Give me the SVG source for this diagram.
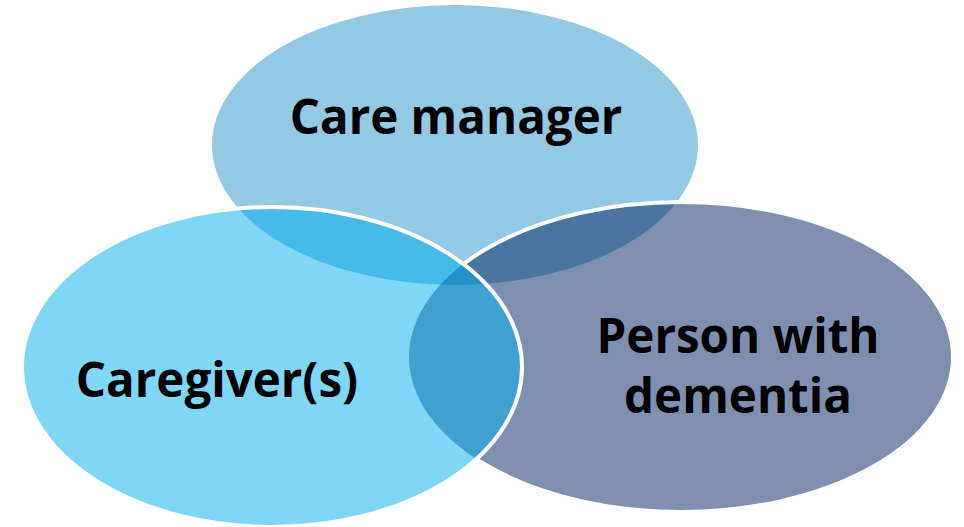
<svg xmlns="http://www.w3.org/2000/svg" width="964" height="527" viewBox="0 0 964 527">
  <defs>
    <ellipse id="shape-top" cx="455" cy="145" rx="243" ry="140"/>
    <ellipse id="shape-left" cx="272" cy="367" rx="250" ry="160"/>
    <ellipse id="shape-right" cx="681" cy="357" rx="272" ry="155"/>
    <clipPath id="clip-top"><use href="#shape-top"/></clipPath>
    <clipPath id="clip-left"><use href="#shape-left"/></clipPath>
    <clipPath id="clip-right"><use href="#shape-right"/></clipPath>
    <!-- hides the part of the right outline that lies under the left set -->
    <mask id="outside-left" maskUnits="userSpaceOnUse" x="0" y="0" width="964" height="527">
      <rect width="964" height="527" fill="#fff"/>
      <use href="#shape-left" fill="#000"/>
    </mask>
  </defs>
  <style>
    .label { font-family: "Open Sans", "Noto Sans", "DejaVu Sans", sans-serif; font-weight: 700; font-size: 47.5px; fill: #000; text-anchor: middle; }
    .outline { fill: none; stroke: #fff; stroke-width: 4; }
  </style>

  <rect width="964" height="527" fill="#fff"/>

  <!-- set fills -->
  <g id="node-care-manager">
    <use href="#shape-top" fill="#94C9E4"/>
  </g>
  <g id="node-person-with-dementia">
    <use href="#shape-right" fill="#7F8FB0"/>
  </g>
  <g id="node-caregivers">
    <use href="#shape-left" fill="#7FD6F5"/>
  </g>

  <!-- overlap regions -->
  <g id="overlaps">
    <g clip-path="url(#clip-top)">
      <use href="#shape-left" fill="#48BAE8"/>
      <use href="#shape-right" fill="#4A75A0"/>
    </g>
    <g clip-path="url(#clip-left)">
      <use href="#shape-right" fill="#40A0CF"/>
    </g>
    <g clip-path="url(#clip-top)">
      <g clip-path="url(#clip-left)">
        <use href="#shape-right" fill="#2492C8"/>
      </g>
    </g>
  </g>

  <!-- white outlines -->
  <g id="outlines">
    <use href="#shape-right" class="outline" mask="url(#outside-left)"/>
    <use href="#shape-left" class="outline"/>
  </g>

  <!-- labels -->
  <text class="label" x="456" y="134">Care manager</text>
  <text class="label" x="217" y="397">Caregiver(s)</text>
  <text class="label" x="738" y="353">Person with</text>
  <text class="label" x="738" y="413">dementia</text>
</svg>
